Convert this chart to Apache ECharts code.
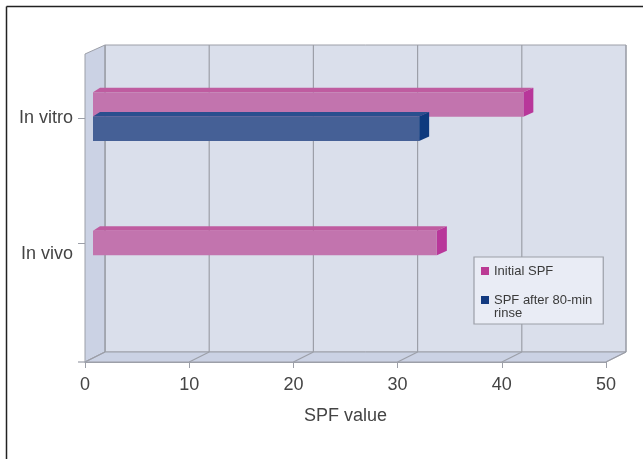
<!DOCTYPE html>
<html>
<head>
<meta charset="utf-8">
<style>html,body{margin:0;padding:0;background:#fff}#c{width:643px;height:459px}</style>
<script src="https://cdn.jsdelivr.net/npm/echarts@6/dist/echarts.min.js"></script>
</head>
<body>
<div id="c"></div>
<script>
var categories = ['In vivo', 'In vitro'];
var initialSPF = [33, 41.3];
var rinseSPF = [null, 31.3];
var xTicks = [0, 10, 20, 30, 40, 50];

var FONT = '"Liberation Sans", Arial, sans-serif';
var DEPTH_X = 20, DEPTH_Y = 10;
var BAR_H = 24.5, BAR_DX = 10, BAR_DY = 4.5, BAR_START = 8;

function poly(points, fill, stroke) {
  return { type: 'polygon', shape: { points: points },
    style: { fill: fill, stroke: stroke || null, lineWidth: stroke ? 1 : 0 } };
}
function line(x1, y1, x2, y2, color, w) {
  return { type: 'line', shape: { x1: x1, y1: y1, x2: x2, y2: y2 },
    style: { stroke: color, lineWidth: w || 1.2 } };
}

function renderChrome(params, api) {
  var p00 = api.coord([0, 0]), p50 = api.coord([50, 0]), p01 = api.coord([0, 1]);
  var L = p00[0], R = p50[0], B = p00[1], T = p01[1];
  var edge = '#9c9fa8';
  var kids = [
    poly([[L + DEPTH_X, T - DEPTH_Y + 1], [R + DEPTH_X, T - DEPTH_Y + 1], [R + DEPTH_X, B - DEPTH_Y], [L + DEPTH_X, B - DEPTH_Y]], '#dadfeb', edge),
    poly([[L, T], [L + DEPTH_X, T - DEPTH_Y + 1], [L + DEPTH_X, B - DEPTH_Y], [L, B]], '#cbd2e4', edge),
    poly([[L, B], [L + DEPTH_X, B - DEPTH_Y], [R + DEPTH_X, B - DEPTH_Y], [R, B]], '#cbd2e4', edge)
  ];
  xTicks.forEach(function (t) {
    var x = api.coord([t, 0])[0];
    kids.push(line(x, B, x + DEPTH_X, B - DEPTH_Y, edge));
    kids.push(line(x + DEPTH_X, B - DEPTH_Y, x + DEPTH_X, T - DEPTH_Y + 1, edge));
  });
  kids.push(line(L - 7, B, L, B, edge));
  return { type: 'group', children: kids };
}

function barRenderer(values, offsetIfPaired, front, top, side) {
  return function (params, api) {
    var i = params.dataIndex;
    var v = values[i];
    if (v == null) return null;
    var paired = initialSPF[i] != null && rinseSPF[i] != null;
    var cy = api.coord([0, i])[1] + (paired ? offsetIfPaired : 0);
    var x0 = api.coord([0, i])[0] + BAR_START;
    var x1 = api.coord([v, i])[0] + BAR_START;
    var y0 = cy - BAR_H / 2, y1 = cy + BAR_H / 2;
    return { type: 'group', children: [
      poly([[x0, y0], [x0 + BAR_DX * 0.7, y0 - BAR_DY], [x1 + BAR_DX, y0 - BAR_DY], [x1, y0]], top),
      poly([[x1, y0], [x1 + BAR_DX, y0 - BAR_DY], [x1 + BAR_DX, y1 - BAR_DY], [x1, y1]], side),
      poly([[x0, y0], [x1, y0], [x1, y1], [x0, y1]], front)
    ] };
  };
}

var chart = echarts.init(document.getElementById('c'), null, { renderer: 'canvas' });
chart.setOption({
  animation: false,
  backgroundColor: '#fff',
  textStyle: { fontFamily: FONT },
  graphic: [
    { type: 'line', z: 0, shape: { x1: 6.5, y1: 6.5, x2: 643, y2: 6.5 }, style: { stroke: '#222', lineWidth: 1.5 } },
    { type: 'line', z: 0, shape: { x1: 6.5, y1: 6.5, x2: 6.5, y2: 459 }, style: { stroke: '#222', lineWidth: 1.5 } }
  ],
  grid: [
    { left: 85, width: 521, top: 54, height: 308 },
    { left: 85, width: 521, top: 55.5, height: 250 }
  ],
  xAxis: [
    { gridIndex: 0, type: 'value', min: 0, max: 50, interval: 10,
      name: 'SPF value', nameLocation: 'middle', nameGap: 45,
      nameTextStyle: { fontSize: 18, color: '#444', fontFamily: FONT },
      axisLine: { show: true, lineStyle: { color: '#9c9fa8', width: 1.2 } },
      axisTick: { show: true, length: 6, lineStyle: { color: '#9c9fa8' } },
      axisLabel: { fontSize: 18, color: '#444', margin: 14, fontFamily: FONT, showMinLabel: true, showMaxLabel: true },
      splitLine: { show: false } },
    { gridIndex: 1, type: 'value', min: 0, max: 50, show: false, splitLine: { show: false } }
  ],
  yAxis: [
    { gridIndex: 0, type: 'value', min: 0, max: 1, show: false, splitLine: { show: false } },
    { gridIndex: 1, type: 'category', data: categories,
      axisLine: { show: false },
      axisTick: { show: true, alignWithLabel: true, length: 7, lineStyle: { color: '#9c9fa8' } },
      axisLabel: { fontSize: 18, lineHeight: 22, color: '#444', margin: 12, fontFamily: FONT,
        formatter: function (v) { return v === categories[0] ? '\n' + v : v; } } }
  ],
  legend: {
    data: ['Initial SPF', 'SPF after 80-min\nrinse'],
    formatter: function (n) { return n === 'Initial SPF' ? n : '\n' + n; },
    orient: 'vertical', left: 474, top: 257,
    padding: [7.5, 11, 4.5, 7], itemGap: 3, itemWidth: 8, itemHeight: 8, itemStyle: { borderWidth: 0 },
    icon: 'rect', align: 'left', selectedMode: false,
    backgroundColor: '#e9ecf5', borderColor: '#9c9fa8', borderWidth: 1.2,
    textStyle: { fontSize: 13, lineHeight: 13, color: '#3a3a3a', fontFamily: FONT }
  },
  series: [
    { type: 'custom', xAxisIndex: 0, yAxisIndex: 0, z: 1, silent: true, clip: false,
      data: [[0, 0]], renderItem: renderChrome },
    { type: 'custom', name: 'Initial SPF', xAxisIndex: 1, yAxisIndex: 1, z: 2, clip: false,
      itemStyle: { color: '#bb3a94' },
      data: initialSPF.map(function (v, i) { return [v, i]; }),
      renderItem: barRenderer(initialSPF, -13.5, '#c274ae', '#bf5ca0', '#b8379a') },
    { type: 'custom', name: 'SPF after 80-min\nrinse', xAxisIndex: 1, yAxisIndex: 1, z: 3, clip: false,
      itemStyle: { color: '#123a80' },
      data: rinseSPF.map(function (v, i) { return [v, i]; }),
      renderItem: barRenderer(rinseSPF, 10.7, '#456096', '#2a4f8e', '#0f3a7e') }
  ]
});
</script>
</body>
</html>
